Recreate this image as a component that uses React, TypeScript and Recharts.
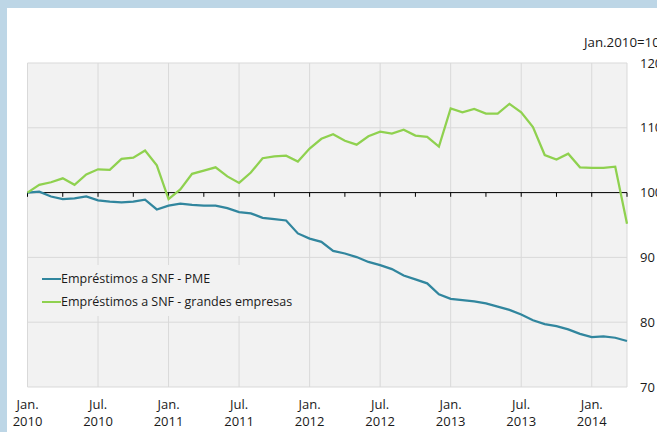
import { LineChart, Line, XAxis, YAxis, CartesianGrid, ReferenceLine, Legend } from 'recharts';

const periods = [
  '2010-01', '2010-02', '2010-03', '2010-04', '2010-05', '2010-06', '2010-07', '2010-08', '2010-09', '2010-10', '2010-11', '2010-12',
  '2011-01', '2011-02', '2011-03', '2011-04', '2011-05', '2011-06', '2011-07', '2011-08', '2011-09', '2011-10', '2011-11', '2011-12',
  '2012-01', '2012-02', '2012-03', '2012-04', '2012-05', '2012-06', '2012-07', '2012-08', '2012-09', '2012-10', '2012-11', '2012-12',
  '2013-01', '2013-02', '2013-03', '2013-04', '2013-05', '2013-06', '2013-07', '2013-08', '2013-09', '2013-10', '2013-11', '2013-12',
  '2014-01', '2014-02', '2014-03', '2014-04',
];

const pme = [
  100.0, 100.15, 99.4, 99.0, 99.1, 99.4, 98.8, 98.6, 98.5, 98.6, 98.9, 97.4,
  98.0, 98.3, 98.1, 98.0, 98.0, 97.6, 97.0, 96.8, 96.1, 95.9, 95.7, 93.7,
  92.9, 92.4, 91.0, 90.6, 90.05, 89.3, 88.8, 88.2, 87.2, 86.6, 86.0, 84.3,
  83.6, 83.4, 83.2, 82.9, 82.4, 81.9, 81.2, 80.3, 79.7, 79.4, 78.9, 78.2,
  77.7, 77.8, 77.6, 77.1,
];

const grandes = [
  100.0, 101.2, 101.6, 102.2, 101.2, 102.8, 103.6, 103.5, 105.2, 105.4, 106.5, 104.2,
  99.0, 100.5, 102.9, 103.4, 103.9, 102.5, 101.5, 103.1, 105.3, 105.6, 105.7, 104.8,
  106.8, 108.3, 109.0, 108.0, 107.4, 108.7, 109.4, 109.1, 109.7, 108.8, 108.6, 107.1,
  113.0, 112.4, 112.9, 112.2, 112.2, 113.7, 112.4, 110.1, 105.8, 105.1, 106.0, 103.9,
  103.8, 103.8, 104.0, 95.2,
];

const labelTicks = ['2010-01', '2010-07', '2011-01', '2011-07', '2012-01', '2012-07', '2013-01', '2013-07', '2014-01'];
const labelMonths = ['Jan.', 'Jul.', 'Jan.', 'Jul.', 'Jan.', 'Jul.', 'Jan.', 'Jul.', 'Jan.'];
const labelYears = ['2010', '2010', '2011', '2011', '2012', '2012', '2013', '2013', '2014'];
const quarterTicks = ['2010-01', '2010-04', '2010-07', '2010-10', '2011-01', '2011-04', '2011-07', '2011-10',
  '2012-01', '2012-04', '2012-07', '2012-10', '2013-01', '2013-04', '2013-07', '2013-10', '2014-01', '2014-04'];
const yTicks = [70, 80, 90, 100, 110, 120];

const data = periods.map((p, i) => ({ period: p, pme: pme[i], grandes: grandes[i] }));

const FONT = '"Open Sans", sans-serif';
const BLUE = '#31869e';
const GREEN = '#8fd14f';

function XTick({ x, y, payload }: any) {
  const k = labelTicks.indexOf(payload.value);
  if (k < 0) return null;
  return (
    <text x={x} y={y} textAnchor="middle" fill="#1a1a1a" fontSize={13} fontFamily={FONT}>
      <tspan x={x} dy={20}>{labelMonths[k]}</tspan>
      <tspan x={x} dy={17}>{labelYears[k]}</tspan>
    </text>
  );
}

function LegendBox({ payload }: any) {
  return (
    <div style={{ background: '#f2f2f2', padding: '2px 8px 3px 4px', fontFamily: FONT, fontSize: 12.5, color: '#1a1a1a' }}>
      {(payload || []).map((item: any) => (
        <div key={item.value} style={{ display: 'flex', alignItems: 'center', height: 23 }}>
          <span style={{ display: 'inline-block', width: 19, height: 2, background: item.color }} />
          <span>{item.value}</span>
        </div>
      ))}
    </div>
  );
}

export default function App() {
  return (
    <div style={{ position: 'fixed', left: 0, top: 0, width: 657, height: 432, overflow: 'hidden', background: '#bdd6e6' }}>
      <div style={{ position: 'absolute', left: 7, top: 8, right: 0, bottom: 0, background: '#fff' }} />
      <div style={{ position: 'absolute', left: 584, top: 33, fontFamily: FONT, fontSize: 13.3, color: '#1a1a1a', whiteSpace: 'nowrap' }}>
        Jan.2010=100
      </div>
      <div style={{ position: 'absolute', left: 0, top: 0 }}>
        <LineChart width={657} height={432} data={data} margin={{ top: 63, right: 0, bottom: 5, left: 27.5 }}>
          <CartesianGrid stroke="#d9d9d9" fill="#f2f2f2" strokeWidth={1} />
          <XAxis
            dataKey="period"
            ticks={labelTicks}
            interval={0}
            axisLine={false}
            tickLine={false}
            tickSize={0}
            height={40}
            tick={<XTick />}
          />
          <YAxis
            orientation="right"
            domain={[70, 120]}
            ticks={yTicks}
            axisLine={false}
            tickLine={false}
            tickMargin={7}
            width={30}
            tick={{ fill: '#1a1a1a', fontSize: 13, fontFamily: FONT, textAnchor: 'start' }}
          />
          <Legend
            verticalAlign="middle"
            align="center"
            layout="horizontal"
            wrapperStyle={{ left: 38, top: 265, width: 'auto' }}
            content={<LegendBox />}
          />
          <ReferenceLine y={100} stroke="#000" strokeWidth={1} />
          {quarterTicks.map((q) => (
            <ReferenceLine key={q} segment={[{ x: q, y: 100 }, { x: q, y: 99.35 }]} stroke="#000" strokeWidth={1} />
          ))}
          <Line
            type="linear"
            dataKey="pme"
            name="Empréstimos a SNF - PME"
            stroke={BLUE}
            strokeWidth={2.25}
            dot={false}
            isAnimationActive={false}
          />
          <Line
            type="linear"
            dataKey="grandes"
            name="Empréstimos a SNF - grandes empresas"
            stroke={GREEN}
            strokeWidth={2.25}
            dot={false}
            isAnimationActive={false}
          />
        </LineChart>
      </div>
    </div>
  );
}
